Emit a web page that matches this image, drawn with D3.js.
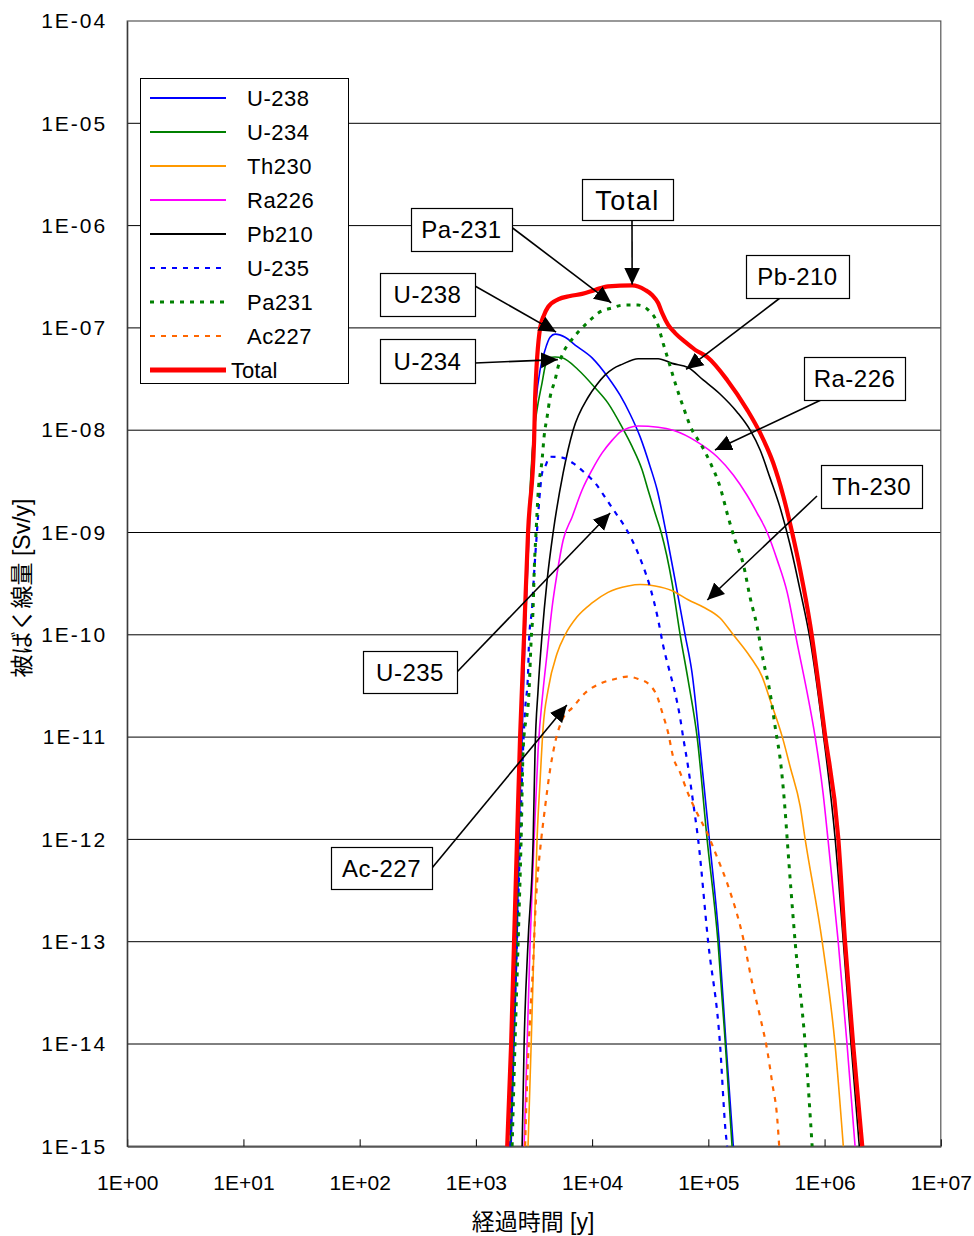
<!DOCTYPE html>
<html><head><meta charset="utf-8">
<script src="https://cdn.jsdelivr.net/npm/d3@7"></script>
<style>body{margin:0;background:#fff}</style>
</head><body><svg id="c" width="974" height="1236"></svg>
<script>
// ---------- data (years, Sv/y) ----------
const xTickLabels = ["1E+00","1E+01","1E+02","1E+03","1E+04","1E+05","1E+06","1E+07"];
const yTickLabels = ["1E-04","1E-05","1E-06","1E-07","1E-08","1E-09","1E-10","1E-11","1E-12","1E-13","1E-14","1E-15"];
const seriesNames = ["U-238","U-234","Th230","Ra226","Pb210","U-235","Pa231","Ac227","Total"];

const u238 = [[2.01e3,1e-15],[2.13e3,1e-14],[2.26e3,1e-13],[2.35e3,1e-12],[2.50e3,1e-11],[2.65e3,1e-10],[2.87e3,1e-9],[3.11e3,8e-9],[3.30e3,2.0e-8],[3.57e3,3.9e-8],[3.94e3,6.1e-8],[4.35e3,8.1e-8],[4.80e3,8.7e-8],[5.86e3,8.1e-8],[7.14e3,6.8e-8],[1.0e4,5.1e-8],[1.37e4,3.3e-8],[1.74e4,2.2e-8],[2.12e4,1.44e-8],[2.59e4,8.6e-9],[3.16e4,4.4e-9],[3.63e4,2.6e-9],[4.33e4,1.0e-9],[5.18e4,3.4e-10],[6.31e4,1.0e-10],[7.25e4,4.2e-11],[8.33e4,1e-11],[1.02e5,1e-12],[1.24e5,1e-13],[1.42e5,1e-14],[1.64e5,1e-15]];
const u234 = [[1.97e3,1e-15],[2.09e3,1e-14],[2.22e3,1e-13],[2.31e3,1e-12],[2.45e3,1e-11],[2.60e3,1e-10],[2.81e3,1e-9],[3.11e3,8e-9],[3.36e3,1.6e-8],[3.71e3,2.9e-8],[3.94e3,4.2e-8],[4.18e3,5.1e-8],[4.80e3,5.2e-8],[5.52e3,5.1e-8],[7.58e3,3.9e-8],[1.06e4,2.6e-8],[1.37e4,1.84e-8],[1.81e4,1.07e-8],[2.21e4,6.9e-9],[2.69e4,4.1e-9],[3.03e4,2.6e-9],[3.48e4,1.55e-9],[3.93e4,1e-9],[4.88e4,3.2e-10],[5.72e4,1e-10],[6.70e4,3.6e-11],[8.01e4,1e-11],[9.76e4,1e-12],[1.21e5,1e-13],[1.40e5,1e-14],[1.60e5,1e-15]];
const th230 = [[2.81e3,1e-15],[2.99e3,1e-14],[3.17e3,1e-13],[3.36e3,1e-12],[3.57e3,3.8e-12],[3.79e3,1.25e-11],[4.18e3,2.9e-11],[5.00e3,6.6e-11],[5.86e3,1.0e-10],[7.43e3,1.5e-10],[1.0e4,2.05e-10],[1.37e4,2.6e-10],[2.04e4,3.0e-10],[2.59e4,3.1e-10],[3.48e4,3.0e-10],[4.88e4,2.7e-10],[6.70e4,2.2e-10],[9.02e4,1.87e-10],[1.26e5,1.46e-10],[1.64e5,1.0e-10],[2.29e5,6.1e-11],[2.90e5,3.9e-11],[3.40e5,2.3e-11],[4.40e5,9.4e-12],[5.06e5,5.1e-12],[6.17e5,2.1e-12],[6.81e5,1e-12],[9.54e5,1e-13],[1.23e6,1e-14],[1.45e6,1e-15]];
const ra226 = [[2.60e3,1e-15],[2.76e3,1e-14],[2.93e3,1e-13],[3.17e3,1e-12],[3.43e3,7.5e-12],[3.79e3,2.9e-11],[4.10e3,6.6e-11],[4.53e3,1.87e-10],[5.00e3,4.0e-10],[5.63e3,8.4e-10],[6.73e3,1.42e-9],[8.20e3,2.6e-9],[1.0e4,4.1e-9],[1.22e4,6.0e-9],[1.49e4,8.0e-9],[1.74e4,9.6e-9],[2.04e4,1.05e-8],[2.49e4,1.1e-8],[3.70e4,1.07e-8],[4.98e4,1.0e-8],[8.01e4,7.7e-9],[1.19e5,5.5e-9],[1.64e5,3.65e-9],[2.16e5,2.3e-9],[2.63e5,1.55e-9],[3.21e5,1e-9],[3.91e5,5.4e-10],[4.77e5,2.6e-10],[5.81e5,8.3e-11],[7.09e5,2.7e-11],[8.30e5,1e-11],[9.72e5,2.8e-12],[1.07e6,1e-12],[1.31e6,1e-13],[1.56e6,1e-14],[1.83e6,1e-15]];
const pb210 = [[2.50e3,1e-15],[2.60e3,1e-14],[2.81e3,1e-13],[3.11e3,1e-12],[3.23e3,7.5e-12],[3.43e3,2.9e-11],[3.71e3,1e-10],[4.10e3,3.4e-10],[4.62e3,1e-9],[5.63e3,3.8e-9],[6.86e3,1e-8],[9.24e3,2.1e-8],[1.10e4,2.8e-8],[1.29e4,3.46e-8],[1.52e4,4.0e-8],[1.81e4,4.4e-8],[2.49e4,5.0e-8],[3.70e4,5.0e-8],[4.88e4,4.5e-8],[6.70e4,4.1e-8],[9.02e4,3.1e-8],[1.26e5,2.26e-8],[1.77e5,1.5e-8],[2.29e5,1.0e-8],[2.79e5,6.4e-9],[3.40e5,3.4e-9],[4.15e5,1.74e-9],[5.06e5,7.5e-10],[6.17e5,2.7e-10],[7.52e5,8.9e-11],[9.72e5,1.1e-11],[1.23e6,1.05e-12],[1.45e6,1e-13],[1.69e6,1e-14],[1.99e6,1e-15]];
const u235 = [[1.97e3,1e-15],[2.09e3,1e-14],[2.26e3,1e-13],[2.40e3,1e-12],[2.55e3,8e-12],[2.65e3,1.84e-11],[2.81e3,4.2e-11],[2.87e3,9e-11],[3.05e3,1.87e-10],[3.17e3,4.0e-10],[3.36e3,1.05e-9],[3.57e3,2.6e-9],[3.71e3,3.8e-9],[3.94e3,4.4e-9],[4.35e3,5.5e-9],[5.52e3,5.4e-9],[7.14e3,4.6e-9],[8.71e3,3.8e-9],[1.06e4,3.05e-9],[1.37e4,2.0e-9],[1.64e4,1.48e-9],[1.92e4,1.13e-9],[2.21e4,8.4e-10],[2.69e4,5.0e-10],[3.16e4,2.9e-10],[3.70e4,1.4e-10],[4.08e4,7.9e-11],[4.69e4,4.2e-11],[5.18e4,2.7e-11],[5.72e4,1.54e-11],[6.07e4,1e-11],[6.70e4,5.1e-12],[7.40e4,2.3e-12],[8.17e4,1e-12],[9.96e4,1e-13],[1.26e5,1e-14],[1.40e5,1.5e-15],[1.45e5,1e-15]];
const pa231 = [[2.05e3,1e-15],[2.17e3,1e-14],[2.31e3,1e-13],[2.45e3,1e-12],[2.55e3,7.5e-12],[2.87e3,2.9e-11],[2.99e3,9e-11],[3.11e3,1.87e-10],[3.17e3,4.0e-10],[3.30e3,1.05e-9],[3.43e3,2.4e-9],[3.71e3,5.1e-9],[3.86e3,8.6e-9],[4.10e3,1.35e-8],[4.35e3,2.1e-8],[4.80e3,3.1e-8],[5.10e3,4.15e-8],[5.63e3,5.7e-8],[6.47e3,7.3e-8],[7.58e3,9.1e-8],[9.24e3,1.14e-7],[1.13e4,1.4e-7],[1.49e4,1.57e-7],[1.85e4,1.67e-7],[2.49e4,1.67e-7],[3.03e4,1.5e-7],[3.63e4,1.12e-7],[4.08e4,7.1e-8],[4.51e4,4.9e-8],[5.18e4,2.9e-8],[6.07e4,1.7e-8],[7.25e4,1e-8],[8.50e4,7.5e-9],[1.04e5,4.8e-9],[1.26e5,2.8e-9],[1.48e5,1.42e-9],[1.70e5,8.4e-10],[1.99e5,5.0e-10],[2.29e5,2.3e-10],[2.63e5,1.2e-10],[2.96e5,5.7e-11],[3.40e5,2.7e-11],[3.76e5,1.25e-11],[4.23e5,5.1e-12],[4.58e5,1.9e-12],[4.77e5,1e-12],[5.58e5,1e-13],[6.81e5,1e-14],[7.82e5,1e-15]];
const ac227 = [[2.65e3,1e-15],[2.76e3,4.3e-15],[2.93e3,1.84e-14],[3.11e3,6.2e-14],[3.23e3,1.74e-13],[3.36e3,3.75e-13],[3.57e3,7.9e-13],[3.94e3,2.07e-12],[4.35e3,4.8e-12],[4.80e3,8.8e-12],[5.52e3,1.47e-11],[6.86e3,1.97e-11],[8.71e3,2.7e-11],[1.22e4,3.4e-11],[1.58e4,3.7e-11],[2.00e4,3.9e-11],[2.49e4,3.7e-11],[3.16e4,3.2e-11],[3.63e4,2.5e-11],[4.00e4,1.76e-11],[4.51e4,1.1e-11],[4.98e4,6.4e-12],[5.72e4,4.5e-12],[6.70e4,2.8e-12],[8.01e4,1.8e-12],[9.76e4,1.16e-12],[1.19e5,6.7e-13],[1.45e5,3.75e-13],[1.99e5,1.09e-13],[2.38e5,4.0e-14],[2.79e5,1.84e-14],[3.21e5,8.7e-15],[3.54e5,4.2e-15],[3.91e5,1.9e-15],[4.07e5,1e-15]];
const total = [[1.86e3,1e-15],[2.01e3,1e-14],[2.13e3,1e-13],[2.26e3,1e-12],[2.40e3,1e-11],[2.60e3,1e-10],[2.81e3,1e-9],[3.17e3,8.0e-9],[3.23e3,2.0e-8],[3.57e3,1.0e-7],[3.86e3,1.34e-7],[4.18e3,1.6e-7],[5.10e3,1.9e-7],[6.47e3,2.05e-7],[8.20e3,2.15e-7],[1.06e4,2.35e-7],[1.37e4,2.55e-7],[2.21e4,2.6e-7],[2.86e4,2.35e-7],[3.28e4,2.1e-7],[3.70e4,1.75e-7],[4.00e4,1.4e-7],[4.51e4,1.07e-7],[5.18e4,8.9e-8],[6.31e4,7.3e-8],[7.70e4,6.1e-8],[9.76e4,5.2e-8],[1.45e5,3.1e-8],[2.16e5,1.58e-8],[2.79e5,9.4e-9],[3.61e5,4.8e-9],[4.40e5,2.3e-9],[5.26e5,1.0e-9],[6.17e5,4.3e-10],[7.52e5,1.25e-10],[1.01e6,1.05e-11],[1.31e6,1.05e-12],[1.50e6,1e-13],[1.76e6,1e-14],[2.11e6,1e-15]];

const seriesData = [u238,u234,th230,ra226,pb210,u235,pa231,ac227,total];
const annotationLabels = ["Total","Pa-231","U-238","U-234","Pb-210","Ra-226","Th-230","U-235","Ac-227"];
// arrow tips, in data space
const annotationTargets = [[2.21e4,2.65e-7],[1.46e4,1.76e-7],[4.9e3,9.1e-8],[5.07e3,4.9e-8],[6.44e4,3.94e-8],[1.14e5,6.4e-9],[9.8e4,2.19e-10],[1.43e4,1.55e-9],[6.06e3,2.06e-11]];

// ---------- styles / layout ----------
const styles = [
  {c:"#0000ff", w:1.6, d:null},
  {c:"#008000", w:1.6, d:null},
  {c:"#ff9900", w:1.6, d:null},
  {c:"#ff00ff", w:1.6, d:null},
  {c:"#000000", w:1.6, d:null},
  {c:"#0000ff", w:2.2, d:"5,6"},
  {c:"#008000", w:3, d:"4,6"},
  {c:"#ff6600", w:2.2, d:"5,6"},
  {c:"#ff0000", w:4.2, d:null}
];
const boxes = [ // x,y,w,h, arrow start x,y
  [582,179,91,41, 632,220],
  [411,208,101,43, 510,226],
  [380,273,95,43, 475,286],
  [380,339,95,44, 475,363],
  [746,255,103,43, 780,298],
  [804,357,101,43, 821,400],
  [821,465,101,43, 817,496],
  [363,651,94,42, 457,672],
  [331,847,101,42, 432,868]
];

const L=127.2, R=940.8, T=21, B=1146.3;
const FONT = "'Liberation Sans', Arial, 'Noto Sans CJK JP', sans-serif";
const svg = d3.select("#c");
const x = d3.scaleLog().domain([1,1e7]).range([L,R]);
const y = d3.scaleLog().domain([1e-15,1e-4]).range([B,T]);

svg.append("rect").attr("width",974).attr("height",1236).attr("fill","#fff");

// gridlines
const yTicks = yTickLabels.map(s=>+s);
svg.append("g").selectAll("line").data(yTicks.filter(v=>v<1e-4 && v>1e-15)).join("line")
  .attr("x1",L).attr("x2",R).attr("y1",d=>y(d)).attr("y2",d=>y(d))
  .attr("stroke","#000").attr("stroke-width",1);

// frame
svg.append("rect").attr("x",L).attr("y",T).attr("width",R-L).attr("height",B-T)
  .attr("fill","none").attr("stroke","#555").attr("stroke-width",1.2);

// x axis
const xTicks = xTickLabels.map(s=>+s);
const xAxis = d3.axisBottom(x).tickValues(xTicks).tickFormat((d,i)=>xTickLabels[i]).tickSizeInner(-7).tickSizeOuter(0).tickPadding(29);
const gx = svg.append("g").attr("transform",`translate(0,${B})`).call(xAxis);
gx.select(".domain").attr("stroke","#555").attr("stroke-width",2);
gx.selectAll(".tick line").attr("stroke","#000");
gx.selectAll("text").attr("font-family",FONT).attr("font-size",21).attr("fill","#000");

// y axis
const yAxis = d3.axisLeft(y).tickValues(yTicks).tickFormat((d,i)=>yTickLabels[i]).tickSize(0).tickPadding(20);
const gy = svg.append("g").attr("transform",`translate(${L},0)`).call(yAxis);
gy.select(".domain").attr("stroke","#333").attr("stroke-width",1.2);
gy.selectAll("text").attr("font-family",FONT).attr("font-size",21).attr("letter-spacing",2).attr("fill","#000");

// axis titles
svg.append("text").attr("x",(L+R)/2-1).attr("y",1230).attr("text-anchor","middle")
  .attr("font-family",FONT).attr("font-size",23).text("経過時間 [y]");
svg.append("text").attr("transform","translate(30,588) rotate(-90)").attr("text-anchor","middle")
  .attr("font-family",FONT).attr("font-size",23).text("被ばく線量 [Sv/y]");

// curves
svg.append("clipPath").attr("id","clip").append("rect").attr("x",L).attr("y",T).attr("width",R-L).attr("height",B-T+1);
const line = d3.line().x(d=>x(d[0])).y(d=>y(d[1])).curve(d3.curveMonotoneX);
const gc = svg.append("g").attr("clip-path","url(#clip)");
seriesData.forEach((s,i)=>{
  gc.append("path").datum(s).attr("d",line).attr("fill","none")
    .attr("stroke",styles[i].c).attr("stroke-width",styles[i].w)
    .attr("stroke-dasharray",styles[i].d).attr("stroke-linejoin","round");
});

// legend
const lg = svg.append("g");
lg.append("rect").attr("x",140.5).attr("y",78.5).attr("width",208).attr("height",305)
  .attr("fill","#fff").attr("stroke","#000").attr("stroke-width",1);
seriesNames.forEach((n,i)=>{
  const yy = 98 + 34*i;
  lg.append("line").attr("x1",150).attr("x2",226).attr("y1",yy).attr("y2",yy)
    .attr("stroke",styles[i].c).attr("stroke-width",i===8?5:(styles[i].d? (i===6?3:2.2):2))
    .attr("stroke-dasharray",styles[i].d);
  lg.append("text").attr("x",i===8?231:247).attr("y",yy+8).attr("font-family",FONT)
    .attr("font-size",22).attr("letter-spacing",i===8?0:0.5).text(n);
});

// annotations
const defs = svg.append("defs");
defs.append("marker").attr("id","ah").attr("markerUnits","userSpaceOnUse")
  .attr("markerWidth",18).attr("markerHeight",18).attr("viewBox","-16 -8 17 16")
  .attr("refX",0).attr("refY",0).attr("orient","auto")
  .append("path").attr("d","M-16,-7.5 L0,0 L-16,7.5 Z").attr("fill","#000");
const ga = svg.append("g");
annotationLabels.forEach((lab,i)=>{
  const b = boxes[i], t = annotationTargets[i];
  ga.append("line").attr("x1",b[4]).attr("y1",b[5]).attr("x2",x(t[0])).attr("y2",y(t[1]))
    .attr("stroke","#000").attr("stroke-width",1.6).attr("marker-end","url(#ah)");
  ga.append("rect").attr("x",b[0]+0.5).attr("y",b[1]+0.5).attr("width",b[2]).attr("height",b[3])
    .attr("fill","#fff").attr("stroke","#000").attr("stroke-width",1.2);
  ga.append("text").attr("x",b[0]+b[2]/2).attr("y",b[1]+b[3]/2+ (i===0?10:8.5)).attr("text-anchor","middle")
    .attr("font-family",FONT).attr("font-size",i===0?27:24).attr("letter-spacing",i===0?1.5:0.5).text(lab);
});
</script></body></html>
